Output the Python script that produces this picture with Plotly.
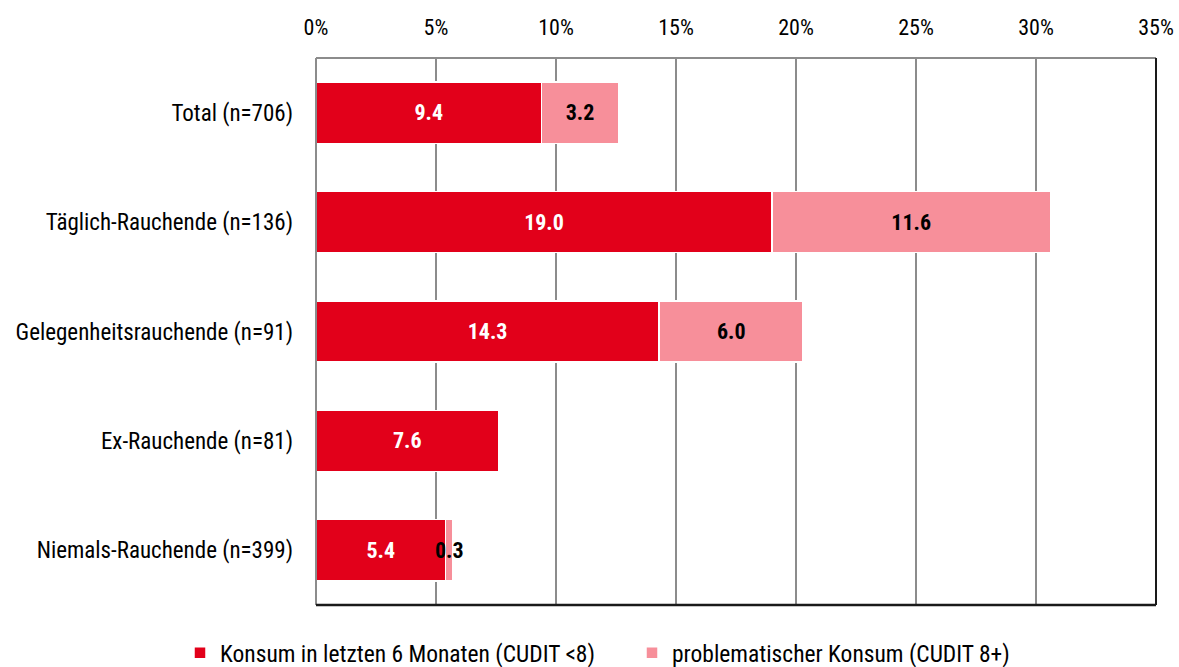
import plotly.graph_objects as go

categories = ["Total (n=706)", "Täglich-Rauchende (n=136)", "Gelegenheitsrauchende (n=91)",
              "Ex-Rauchende (n=81)", "Niemals-Rauchende (n=399)"]
konsum = [9.4, 19.0, 14.3, 7.6, 5.4]
problematisch = [3.2, 11.6, 6.0, 0.0, 0.3]
series_names = ["Konsum in letzten 6 Monaten (CUDIT <8)", "problematischer Konsum (CUDIT 8+)"]
tick_vals = [0, 5, 10, 15, 20, 25, 30, 35]
tick_text = [f"{v}%" for v in tick_vals]

FONT = "Roboto Condensed, Arial Narrow, Liberation Sans Narrow, Roboto, sans-serif"
RED = "#E2001A"
PINK = "#F78F9A"

W, H = 1179, 667

fig = go.Figure()
fig.add_trace(go.Bar(
    y=categories, x=konsum, orientation="h", name=series_names[0], legend="legend",
    marker=dict(color=RED, line=dict(color="white", width=1.5)),
    text=[f"{v:.1f}" for v in konsum], textposition="inside",
    insidetextanchor="middle", textangle=0,
    textfont=dict(color="white", size=22, family=FONT, weight="bold"),
))
fig.add_trace(go.Bar(
    y=categories, x=problematisch, orientation="h", name=series_names[1], legend="legend2",
    marker=dict(color=PINK, line=dict(color="white", width=1.5)),
    text=[f"{v:.1f}" if v > 0 else "" for v in problematisch], textposition="inside",
    insidetextanchor="middle", textangle=0, cliponaxis=False,
    textfont=dict(color="black", size=22, family=FONT, weight="bold"),
))

leg_common = dict(xref="container", yref="container", y=0.054, yanchor="top",
                  xanchor="left", font=dict(size=23.5, family=FONT), itemwidth=30,
                  bgcolor="rgba(0,0,0,0)")

fig.update_layout(
    barmode="stack", bargap=0.44,
    width=W, height=H,
    margin=dict(l=316, r=23, t=58, b=62, autoexpand=False),
    plot_bgcolor="white", paper_bgcolor="white",
    font=dict(family=FONT, size=22, color="black"),
    uniformtext=dict(minsize=22, mode="show"),
    showlegend=True,
    legend=dict(x=180 / W, **leg_common),
    legend2=dict(x=632 / W, **leg_common),
    xaxis=dict(side="top", range=[0, 35], tickvals=tick_vals, ticktext=tick_text,
               showgrid=True, gridcolor="#8c8c8c", gridwidth=2, zeroline=False,
               showline=False, ticks="", ticklabelstandoff=18, automargin=False,
               tickfont=dict(size=22, family=FONT), fixedrange=True),
    yaxis=dict(autorange="reversed", showgrid=False, showline=False, ticks="",
               ticklabelstandoff=22, automargin=False,
               tickfont=dict(size=23, family=FONT)),
    shapes=[
        dict(type="line", xref="paper", yref="paper", x0=0, x1=1, y0=1, y1=1,
             line=dict(color="#8c8c8c", width=2)),
        dict(type="line", xref="paper", yref="paper", x0=0, x1=0, y0=0, y1=1,
             line=dict(color="#8c8c8c", width=2)),
        dict(type="line", xref="paper", yref="paper", x0=1, x1=1, y0=0, y1=1,
             line=dict(color="#1a1a1a", width=2)),
        dict(type="line", xref="paper", yref="paper", x0=0, x1=1, y0=0, y1=0,
             line=dict(color="#1a1a1a", width=2.5)),
    ],
)

fig.write_html("out.html", config={"displayModeBar": False},
               post_script="document.body.style.margin='0';document.body.style.overflow='hidden';")
